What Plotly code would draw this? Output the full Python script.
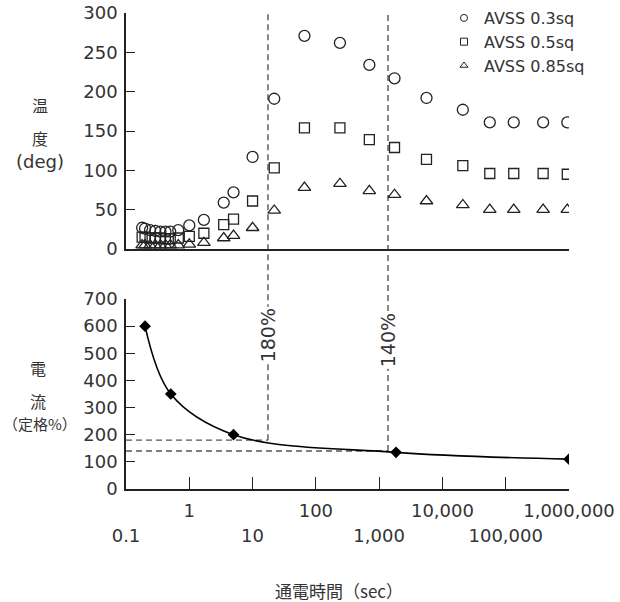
import math
import plotly.graph_objects as go

# ---------------- data ----------------
time_top = [0.18, 0.2, 0.24, 0.29, 0.35, 0.42, 0.5, 0.67, 1.0, 1.7, 3.5, 5.0, 10, 22, 66,
            240, 700, 1750, 5600, 21000, 56000, 134000, 390000, 940000]
temp_03 = [27, 26, 24, 23, 22, 22, 22, 24, 30, 37, 59, 72, 117, 191, 271,
           262, 234, 217, 192, 177, 161, 161, 161, 161]
temp_05 = [15, 15, 14, 14, 14, 13, 13, 14, 16, 20, 31, 38, 61, 103, 154,
           154, 139, 129, 114, 106, 96, 96, 96, 95]
temp_085 = [5, 5, 5, 5, 5, 5, 5, 5, 6, 8, 14, 17, 27, 49, 78,
            83, 74, 69, 61, 56, 50, 50, 50, 50]
series_names = ["AVSS 0.3sq", "AVSS 0.5sq", "AVSS 0.85sq"]

time_cur = [0.2, 0.51, 5.0, 1850, 1000000]
current = [600, 350, 200, 135, 110]

ref_time = [17.5, 1380]
ref_current = [180, 140]
ref_labels = ["180%", "140%"]

all_ticks = [0.1, 1, 10, 100, 1000, 10000, 100000, 1000000]
upper_text = ["", "1", "", "100", "", "10,000", "", "1,000,000"]
lower_ticks = [0.1, 10, 1000, 100000]
lower_text = ["0.1", "10", "1,000", "100,000"]

# ---------------- layout geometry ----------------
W, H = 620, 602
L, R, T, B = 126, 51, 13, 113
PW, PH = W - L - R, H - T - B
top_dom = [(489 - 249) / PH, 1.0]
bot_dom = [0.0, (489 - 299) / PH]

def px(x):
    return (x - L) / PW

def py(y):
    return (489 - y) / PH

FONT = "DejaVu Sans, Noto Sans CJK JP, sans-serif"
JFONT = "Noto Sans CJK JP, DejaVu Sans, sans-serif"
INK = "#222222"
TXT = "#333333"
DASH = "#555555"

fig = go.Figure()

symbols = ["circle-open", "square-open", "triangle-up-open"]
sizes = [11, 10, 11]
for name, vals, sym, sz in zip(series_names, [temp_03, temp_05, temp_085], symbols, sizes):
    fig.add_trace(go.Scatter(
        x=time_top, y=vals, mode="markers", name=name, showlegend=False,
        marker=dict(symbol=sym, size=sz, color=INK, line=dict(width=1.3, color=INK)),
        xaxis="x", yaxis="y"))
for name, sym in zip(series_names, symbols):
    fig.add_trace(go.Scatter(
        x=[None], y=[None], mode="markers", name=name, showlegend=True,
        marker=dict(symbol=sym, size=7, color=INK, line=dict(width=1, color=INK)),
        xaxis="x", yaxis="y"))

fig.add_trace(go.Scatter(
    x=time_cur, y=current, mode="lines+markers", showlegend=False,
    line=dict(color="black", width=1.6, shape="spline", smoothing=1.0),
    marker=dict(symbol="diamond", size=9, color="black"),
    xaxis="x2", yaxis="y2"))
# invisible trace to keep the overlay axis (lower tick row) alive
fig.add_trace(go.Scatter(x=[1], y=[0], mode="markers", showlegend=False,
                         marker=dict(opacity=0), hoverinfo="skip",
                         xaxis="x3", yaxis="y2"))

shapes = []
for t, c in zip(ref_time, ref_current):
    shapes.append(dict(type="line", xref="x2", yref="paper", x0=t, x1=t,
                       y0=c / 700 * bot_dom[1], y1=1.0,
                       line=dict(color=DASH, width=1.4, dash="6px,4px"), layer="below"))
    shapes.append(dict(type="line", xref="x2", yref="y2", x0=0.1, x1=t, y0=c, y1=c,
                       line=dict(color=DASH, width=1.4, dash="6px,4px"), layer="below"))
fig.update_layout(shapes=shapes)

annotations = []
for t, lab, yv in zip(ref_time, ref_labels, [566, 548]):
    annotations.append(dict(x=math.log10(t), y=yv, xref="x2", yref="y2", text=lab,
                            textangle=-90, showarrow=False, bgcolor="white",
                            font=dict(family=FONT, size=19, color=TXT)))
for txt, x, y, fam, size in [("温", 40, 105, JFONT, 16), ("度", 40, 138, JFONT, 16),
                             ("(deg)", 40, 161, FONT, 18),
                             ("電", 38, 368, JFONT, 16), ("流", 38, 401, JFONT, 16),
                             ("（定格%）", 40, 423, JFONT, 15),
                             ("通電時間（sec）", 339, 590, JFONT, 17)]:
    annotations.append(dict(x=px(x), y=py(y), xref="paper", yref="paper", text=txt,
                            showarrow=False, xanchor="center", yanchor="middle",
                            font=dict(family=fam, size=size, color=TXT)))
fig.update_layout(annotations=annotations)

xr = [-1, 6]
common = dict(showgrid=False, zeroline=False, automargin=False)
fig.update_layout(
    width=W, height=H, margin=dict(l=L, r=R, t=T, b=B, autoexpand=False),
    paper_bgcolor="white", plot_bgcolor="white",
    font=dict(family=FONT, size=18, color=INK),
    xaxis=dict(type="log", range=xr, domain=[0, 1], anchor="y", showline=True,
               linecolor=INK, linewidth=1.5, ticks="", showticklabels=False, **common),
    yaxis=dict(range=[0, 300], domain=top_dom, anchor="x", showline=True,
               linecolor=INK, linewidth=1.5,
               tickvals=[0, 50, 100, 150, 200, 250, 300], ticks="inside", ticklen=9,
               tickcolor=INK, ticklabelstandoff=3, tickfont=dict(size=18, color=TXT), **common),
    xaxis2=dict(type="log", range=xr, domain=[0, 1], anchor="y2", showline=True,
                linecolor=INK, linewidth=1.5,
                tickvals=all_ticks, ticktext=upper_text, ticks="inside", ticklen=12,
                tickcolor=INK, tickwidth=1.3, ticklabelstandoff=5,
                tickfont=dict(size=18, color=TXT), **common),
    xaxis3=dict(type="log", range=xr, overlaying="x2", anchor="y2", side="bottom",
                showline=False, tickvals=lower_ticks, ticktext=lower_text, ticks="",
                ticklabelstandoff=34, tickfont=dict(size=18, color=TXT), **common),
    yaxis2=dict(range=[0, 700], domain=bot_dom, anchor="x2", showline=True,
                linecolor=INK, linewidth=1.5,
                tickvals=[0, 100, 200, 300, 400, 500, 600, 700], ticks="inside", ticklen=9,
                tickcolor=INK, ticklabelstandoff=3, tickfont=dict(size=18, color=TXT), **common),
    legend=dict(x=px(444), y=py(1), xanchor="left", yanchor="top",
                bgcolor="rgba(0,0,0,0)", font=dict(family=FONT, size=16, color=TXT),
                tracegroupgap=0),
)

fig.write_html("out.html")
